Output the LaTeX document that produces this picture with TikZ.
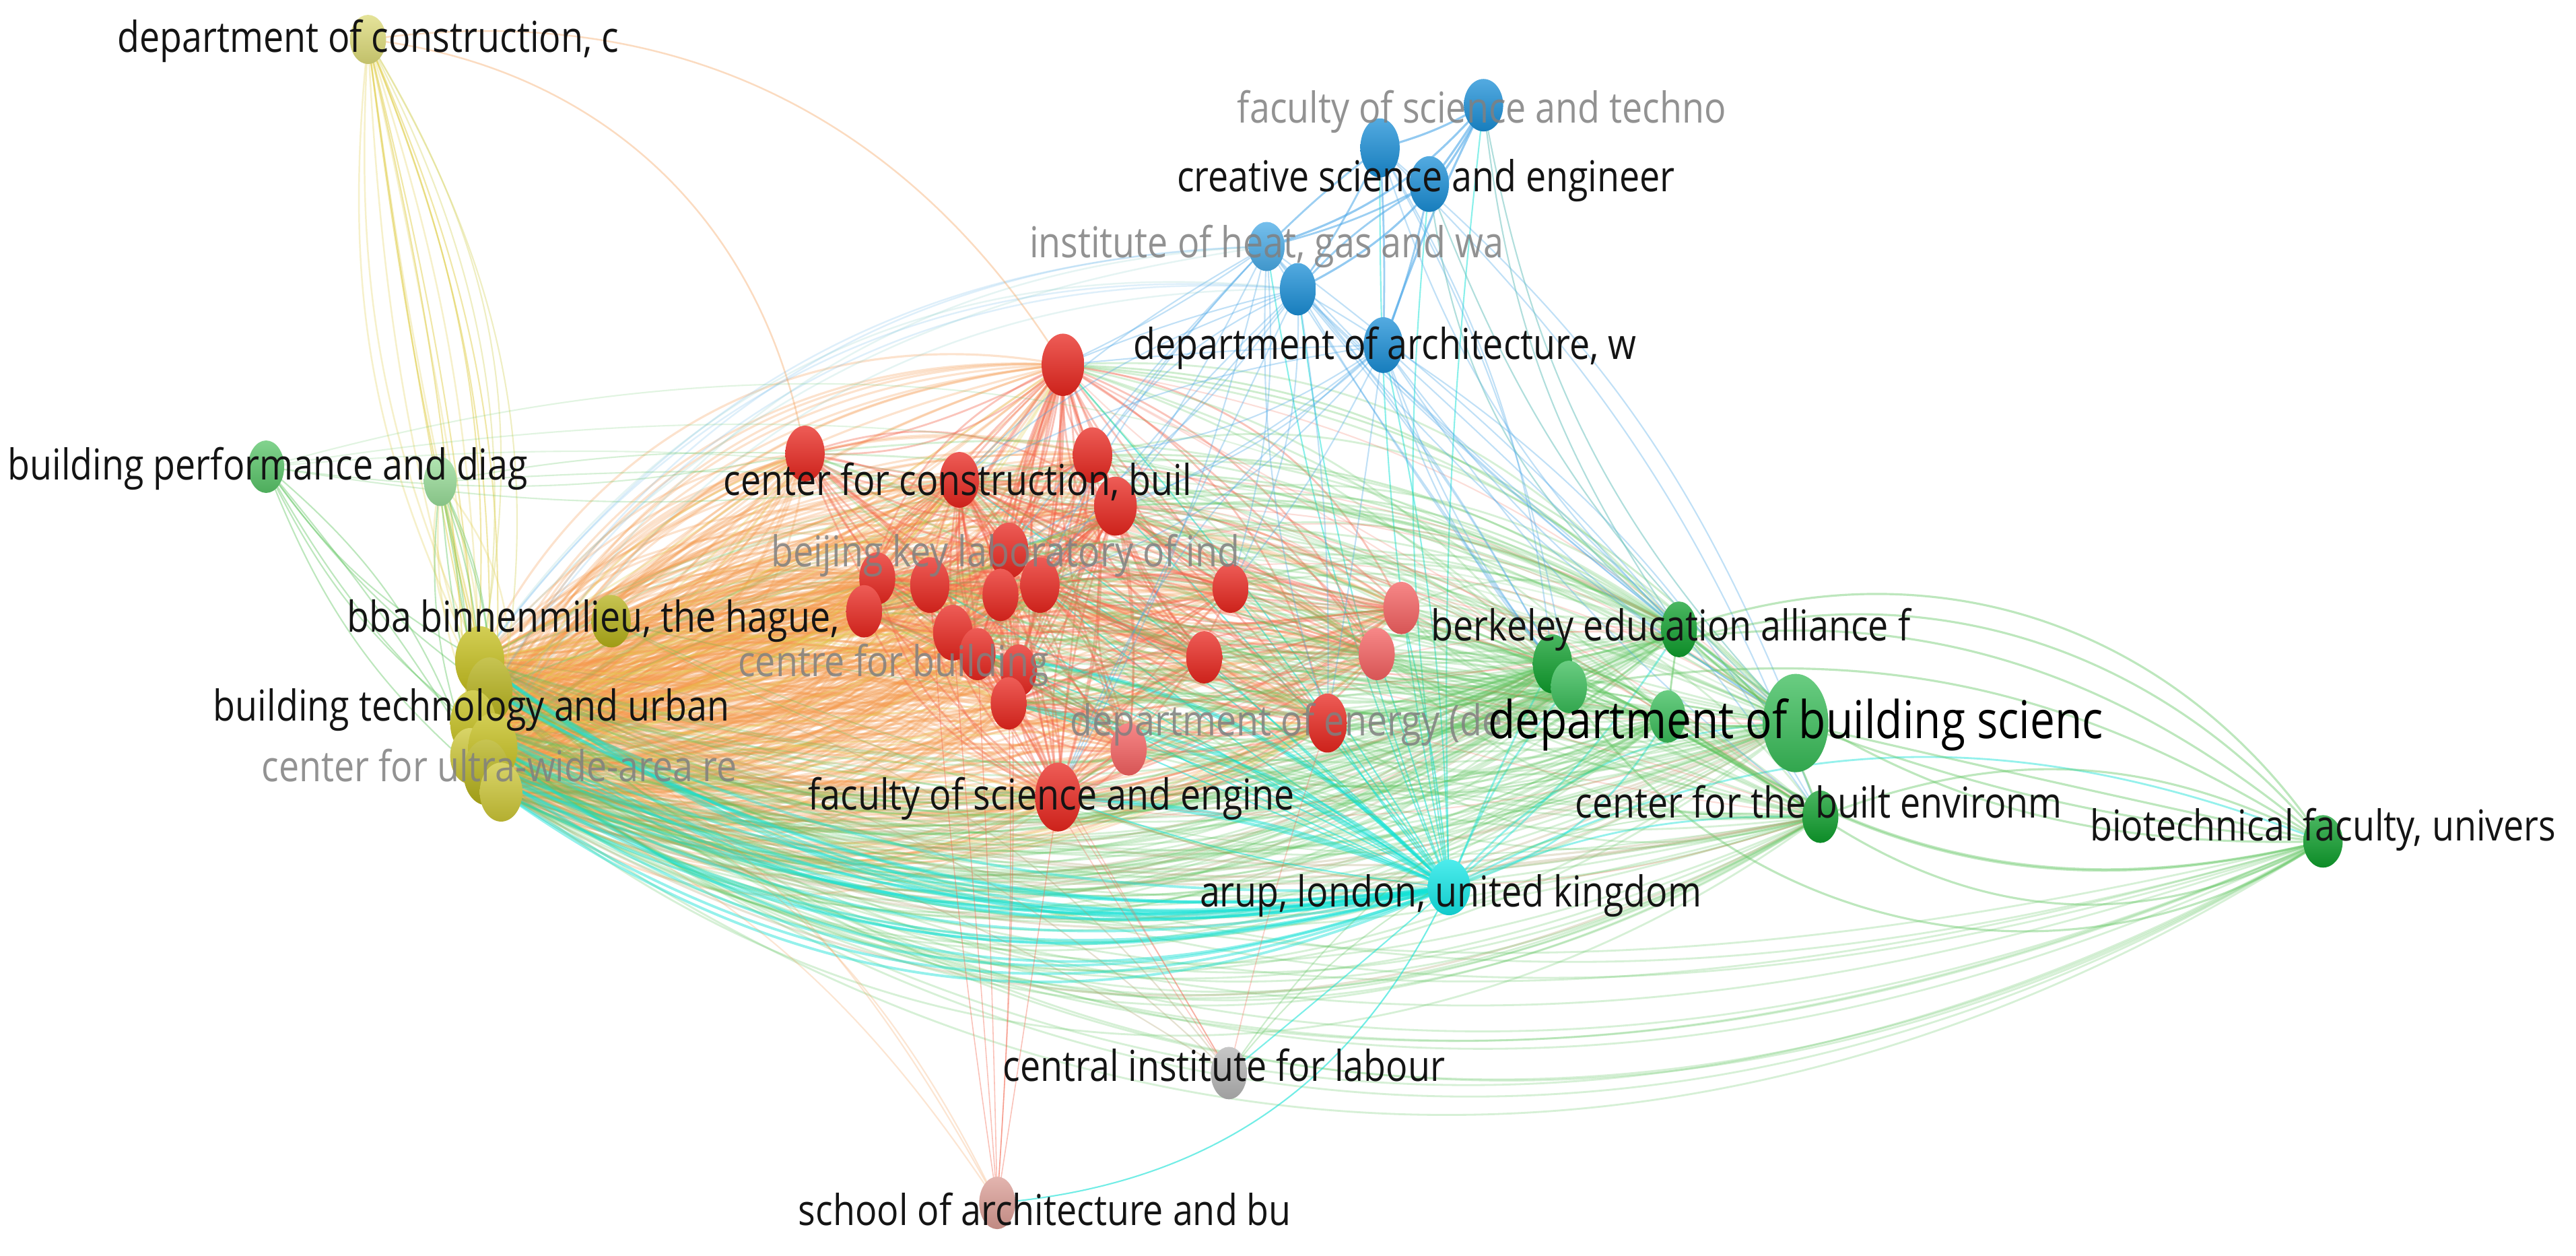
\documentclass[tikz,border=0pt]{standalone}
\usepackage{fontspec}
\setmainfont{Open Sans}[FakeStretch=0.85]
\usetikzlibrary{shapes.geometric}
\definecolor{cRed}{HTML}{E8261E}
\definecolor{cRedL}{HTML}{F46060}
\definecolor{cYel}{HTML}{C4BE1C}
\definecolor{cYelD}{HTML}{B4B018}
\definecolor{cYelM}{HTML}{CCC636}
\definecolor{cYelL}{HTML}{DCDA78}
\definecolor{cGrn}{HTML}{0E9E2C}
\definecolor{cGrnM}{HTML}{38BC58}
\definecolor{cGrnL}{HTML}{58C468}
\definecolor{cGrnP}{HTML}{98DC98}
\definecolor{cBlu}{HTML}{1A8ED6}
\definecolor{cBluL}{HTML}{48AAE6}
\definecolor{cCya}{HTML}{12E6E6}
\definecolor{cGry}{HTML}{B4B4B4}
\definecolor{cPnk}{HTML}{DA9C94}
\definecolor{eOra}{HTML}{F59A4C}
\definecolor{eYel}{HTML}{E2D050}
\definecolor{eSal}{HTML}{F4664E}
\definecolor{eGrn}{HTML}{5CC45C}
\definecolor{eKha}{HTML}{AC9E68}
\definecolor{eCya}{HTML}{14E2D6}
\definecolor{eBlu}{HTML}{4CA8E8}
\definecolor{eTea}{HTML}{70C4C0}
\newcommand\edgeset[8]{%
  \foreach \ea in {#1}{\foreach \eb in {#2}{\foreach \ek in {1,...,#8}{%
    \pgfmathsetmacro\bb{#5+(#6-#5)*rnd}%
    \draw[draw=#3,opacity=#4,line width=#7] (\ea) to[bend left=\bb] (\eb);}}}}
\tikzset{
  vn/.style n args={3}{ellipse, inner sep=0pt, draw=none,
    minimum width=#1*0.6926pt, minimum height=#2*0.6926pt,
    top color=#3!75!white, bottom color=#3!88!black},
  lab/.style={font=\fontsize{18}{20}\selectfont, text=black!92, inner sep=0pt},
  biglab/.style={font=\fontsize{22}{24}\selectfont, text=black, inner sep=0pt},
  flab/.style={lab, text=black!50, text opacity=0.85},
}
\begin{document}
\begin{tikzpicture}[x=0.0244cm,y=-0.0244cm]
\pgfmathsetseed{11}
\fill[white] (0,0) rectangle (1568,764);
\useasboundingbox (0,0) rectangle (1568,764);
% ---------- positions ----------
\foreach \n/\x/\y in {
  y1/224/24, y2/372/378,
  ya/292/402, yb/298/420, yc/288/440, yd/300/455, ye/296/470, yf/305/482, yg/286/460,
  g1/162/284, g2/268/293,
  r1/647/222, r2/490/276, r3/584/292, r4/665/277, r5/679/308, r6/614/335,
  r7/534/352, r8/566/356, r9/609/362, r10/633/356, r11/749/358, r12/526/372,
  r13/580/385, r14/595/398, r15/620/408, r16/614/428, r17/733/400, r18/687/456,
  r19/644/485, r20/808/440, r21/853/370, r22/838/398,
  b1/903/64, b2/840/90, b3/870/112, b4/771/150, b5/790/176, b6/842/210,
  G1/1022/383, G2/945/404, G3/955/418, G4/1015/436, G5/1093/440, G6/1108/497, G7/1414/512,
  c1/882/540, gr1/748/653, p1/607/732}
  {\coordinate (\n) at (\x,\y);}
% ---------- edges ----------
% yellow cluster -> red
\edgeset{ya,yb,yc,yd,ye,yf,yg}{r1,r2,r3,r4,r5,r6,r7,r8,r9,r10,r11,r12,r13,r14,r15,r16,r17,r18,r19,r20,r21,r22}{eOra}{0.28}{-42}{42}{0.9pt}{3}
\edgeset{ya,yc,ye,yg}{r1,r2,r3,r5,r6,r8,r10,r13,r16,r19,r20}{eYel}{0.3}{-30}{30}{0.8pt}{1}
\edgeset{y2}{r1,r2,r3,r4,r5,r6,r7,r8,r9,r10,r12,r13,r14,r16,r19}{eOra}{0.35}{-25}{25}{0.7pt}{1}
\edgeset{ya,yb,yd}{y1,g2}{eYel}{0.3}{-30}{30}{0.7pt}{2}
% yellow cluster -> green (below and above)
\edgeset{ya,yb,yc,yd,ye,yf,yg}{G1,G2,G3,G4,G5,G6,G7}{eGrn}{0.25}{-40}{-14}{0.8pt}{2}
\edgeset{ya,yc,ye,yf}{G2,G3,G5,G6}{eKha}{0.28}{-32}{-10}{0.9pt}{1}
\edgeset{ya,yb,yd}{G1,G2,G5}{eGrn}{0.18}{18}{38}{0.7pt}{1}
\edgeset{y2}{G1,G5,G6}{eGrn}{0.25}{-30}{-10}{0.6pt}{1}
% arup
\edgeset{c1}{ya,yb,yc,yd,ye,yf,yg}{eCya}{0.45}{14}{30}{1.1pt}{3}
\edgeset{c1}{r1,r3,r5,r6,r8,r10,r11,r13,r15,r16,r17,r18,r19,r20,r21,r22}{eCya}{0.55}{-8}{8}{0.6pt}{1}
\edgeset{c1}{G1,G2,G3,G4,G5,G6,G7}{eCya}{0.45}{-25}{25}{0.8pt}{1}
\edgeset{c1}{b1,b2,b3,b4,b5,b6}{eCya}{0.5}{-8}{8}{0.6pt}{1}
\edgeset{c1}{r14,r16,r19}{eCya}{0.5}{-20}{-5}{1.2pt}{2}
\edgeset{c1}{gr1}{eCya}{0.55}{-10}{10}{0.6pt}{1}
% red internal
\edgeset{r1,r3,r5,r6,r10,r13,r16,r19}{r2,r4,r7,r8,r9,r11,r12,r14,r15,r17,r18,r20,r21,r22}{eSal}{0.38}{-30}{30}{0.8pt}{2}
\edgeset{r1,r3,r5}{r6,r10,r13,r16,r19}{eSal}{0.42}{-20}{20}{0.8pt}{2}
% red -> green
\edgeset{r1,r2,r3,r4,r5,r6,r7,r8,r9,r10,r11,r12,r13,r14,r15,r16,r17,r18,r19,r20,r21,r22}{G1,G2,G3,G4,G5,G6}{eGrn}{0.25}{-35}{35}{0.8pt}{1}
\edgeset{r1,r3,r5,r10,r13,r19}{G1,G2,G5,G6}{eSal}{0.22}{-30}{30}{0.6pt}{1}
\edgeset{r1,r4,r5,r3}{G1,G5}{eGrn}{0.3}{8}{22}{0.8pt}{1}
% blue
\edgeset{b1}{b2,b3,b4,b5,b6}{eBlu}{0.6}{-20}{20}{0.9pt}{1}
\edgeset{b2,b3}{b4,b5,b6}{eBlu}{0.55}{-15}{15}{0.8pt}{1}
\edgeset{b4,b5,b6}{r1,r3,r4,r5,r6,r10,r11,r19,r20}{eBlu}{0.35}{-15}{15}{0.6pt}{1}
\edgeset{b4,b5,b6,b2}{G1,G2,G3,G5,G6}{eBlu}{0.35}{-15}{15}{0.6pt}{1}
\edgeset{b1,b3}{G1,G5}{eTea}{0.55}{-22}{-8}{0.6pt}{1}
\edgeset{b4,b5}{ya,yc}{eBlu}{0.18}{-38}{-24}{0.7pt}{1}
\edgeset{b4,b5}{ya,yd}{eTea}{0.18}{-32}{-18}{0.7pt}{1}
% green internal
\edgeset{G1,G2,G3,G4,G5,G6}{G7}{eGrn}{0.4}{-48}{48}{0.9pt}{2}
\edgeset{G1,G2,G3}{G4,G5,G6}{eGrn}{0.5}{-25}{25}{0.8pt}{1}
% top-left yellow, small green
\edgeset{y1}{ya,yb,yc,yd,ye,yf,yg}{eYel}{0.5}{-14}{14}{0.6pt}{1}
\edgeset{y1}{ya,yc,ye}{cYelL}{0.45}{10}{24}{0.6pt}{1}
\edgeset{y1}{r1,r2}{eOra}{0.35}{32}{46}{0.7pt}{1}
\edgeset{g1,g2}{ya,yb,yc,yd,ye,yf,yg}{eGrn}{0.4}{-15}{15}{0.6pt}{1}
\edgeset{g1}{G1,G5,G6}{eGrn}{0.18}{12}{28}{0.6pt}{1}
\edgeset{g1,g2}{r2,r3}{eGrn}{0.25}{-10}{10}{0.6pt}{1}
% grey and pink
\edgeset{gr1}{ya,yc,ye}{eKha}{0.3}{-25}{-10}{0.6pt}{1}
\edgeset{gr1}{r13,r16,r19,r20}{eSal}{0.3}{-5}{5}{0.5pt}{1}
\edgeset{gr1}{G5,G6}{eGrn}{0.3}{15}{30}{0.6pt}{1}
\edgeset{p1}{r6,r13,r14,r16,r19,r8}{eSal}{0.4}{-4}{4}{0.45pt}{1}
\edgeset{p1}{ya,yc,ye}{eOra}{0.25}{-22}{-10}{0.6pt}{1}
\edgeset{p1}{c1}{eCya}{0.6}{-38}{-30}{0.6pt}{1}
% ---------- nodes ----------
\foreach \n/\w/\h/\c in {
  y1/22/30/cYelL, y2/24/32/cYelD,
  ya/30/42/cYel, yb/28/40/cYelD, yc/28/40/cYel, yg/24/34/cYelM, yd/30/42/cYel, ye/28/40/cYelD, yf/26/36/cYelM,
  g1/22/32/cGrnL, g2/20/30/cGrnP,
  r1/26/38/cRed, r2/24/34/cRed, r3/24/34/cRed, r4/24/34/cRed, r5/26/36/cRed, r6/24/34/cRed,
  r7/22/32/cRed, r8/24/34/cRed, r9/22/32/cRed, r10/24/34/cRed, r11/22/30/cRed, r12/22/32/cRed,
  r13/24/34/cRed, r14/22/32/cRed, r15/22/32/cRed, r16/22/32/cRed, r17/22/32/cRed, r18/22/32/cRedL,
  r19/28/42/cRed, r20/24/36/cRed, r21/22/32/cRedL, r22/22/32/cRedL,
  b1/24/32/cBlu, b2/24/36/cBlu, b3/24/34/cBlu, b4/22/30/cBluL, b5/22/32/cBlu, b6/24/34/cBlu,
  G1/22/34/cGrn, G2/24/36/cGrn, G3/22/32/cGrnM, G4/22/32/cGrnM, G5/40/60/cGrnM, G6/22/32/cGrn, G7/24/32/cGrn,
  c1/26/34/cCya, gr1/22/32/cGry, p1/22/32/cPnk}
  {\node[vn={\w}{\h}{\c}] (\n-n) at (\n) {};}
% ---------- labels ----------
\node[lab] (l-y1) at (224,25) {department of construction, c};
\node[lab] (l-g1) at (163,285) {building performance and diag};
\node[lab] (l-y2) at (361,378) {bba binnenmilieu, the hague,};
\node[lab] (l-yc) at (287,432) {building technology and urban};
\node[flab] (l-yg) at (304,466) {center for ultra-wide-area re};
\node[lab] (l-r3) at (583,293) {center for construction, buil};
\node[flab] (l-r6) at (612,338) {beijing key laboratory of ind};
\node[flab,anchor=west] (l-r14) at (449,405) {centre for building};
\node[flab,anchor=west] (l-r20) at (651,441) {department of energy (de};
\node[lab] (l-r19) at (640,486) {faculty of science and engine};
\node[flab] (l-b1) at (902,68) {faculty of science and techno};
\node[lab] (l-b3) at (868,110) {creative science and engineer};
\node[flab] (l-b4) at (771,150) {institute of heat, gas and wa};
\node[lab] (l-b6) at (843,212) {department of architecture, w};
\node[lab] (l-G1) at (1017,383) {berkeley education alliance f};
\node[biglab] (l-G5) at (1093,441) {department of building scienc};
\node[lab] (l-G6) at (1107,488) {center for the built environm};
\node[lab] (l-G7) at (1414,505) {biotechnical faculty, univers};
\node[lab] (l-c1) at (883,545) {arup, london, united kingdom};
\node[lab] (l-gr1) at (745,648) {central institute for labour};
\node[lab] (l-p1) at (636,736) {school of architecture and bu};
\end{tikzpicture}
\end{document}
